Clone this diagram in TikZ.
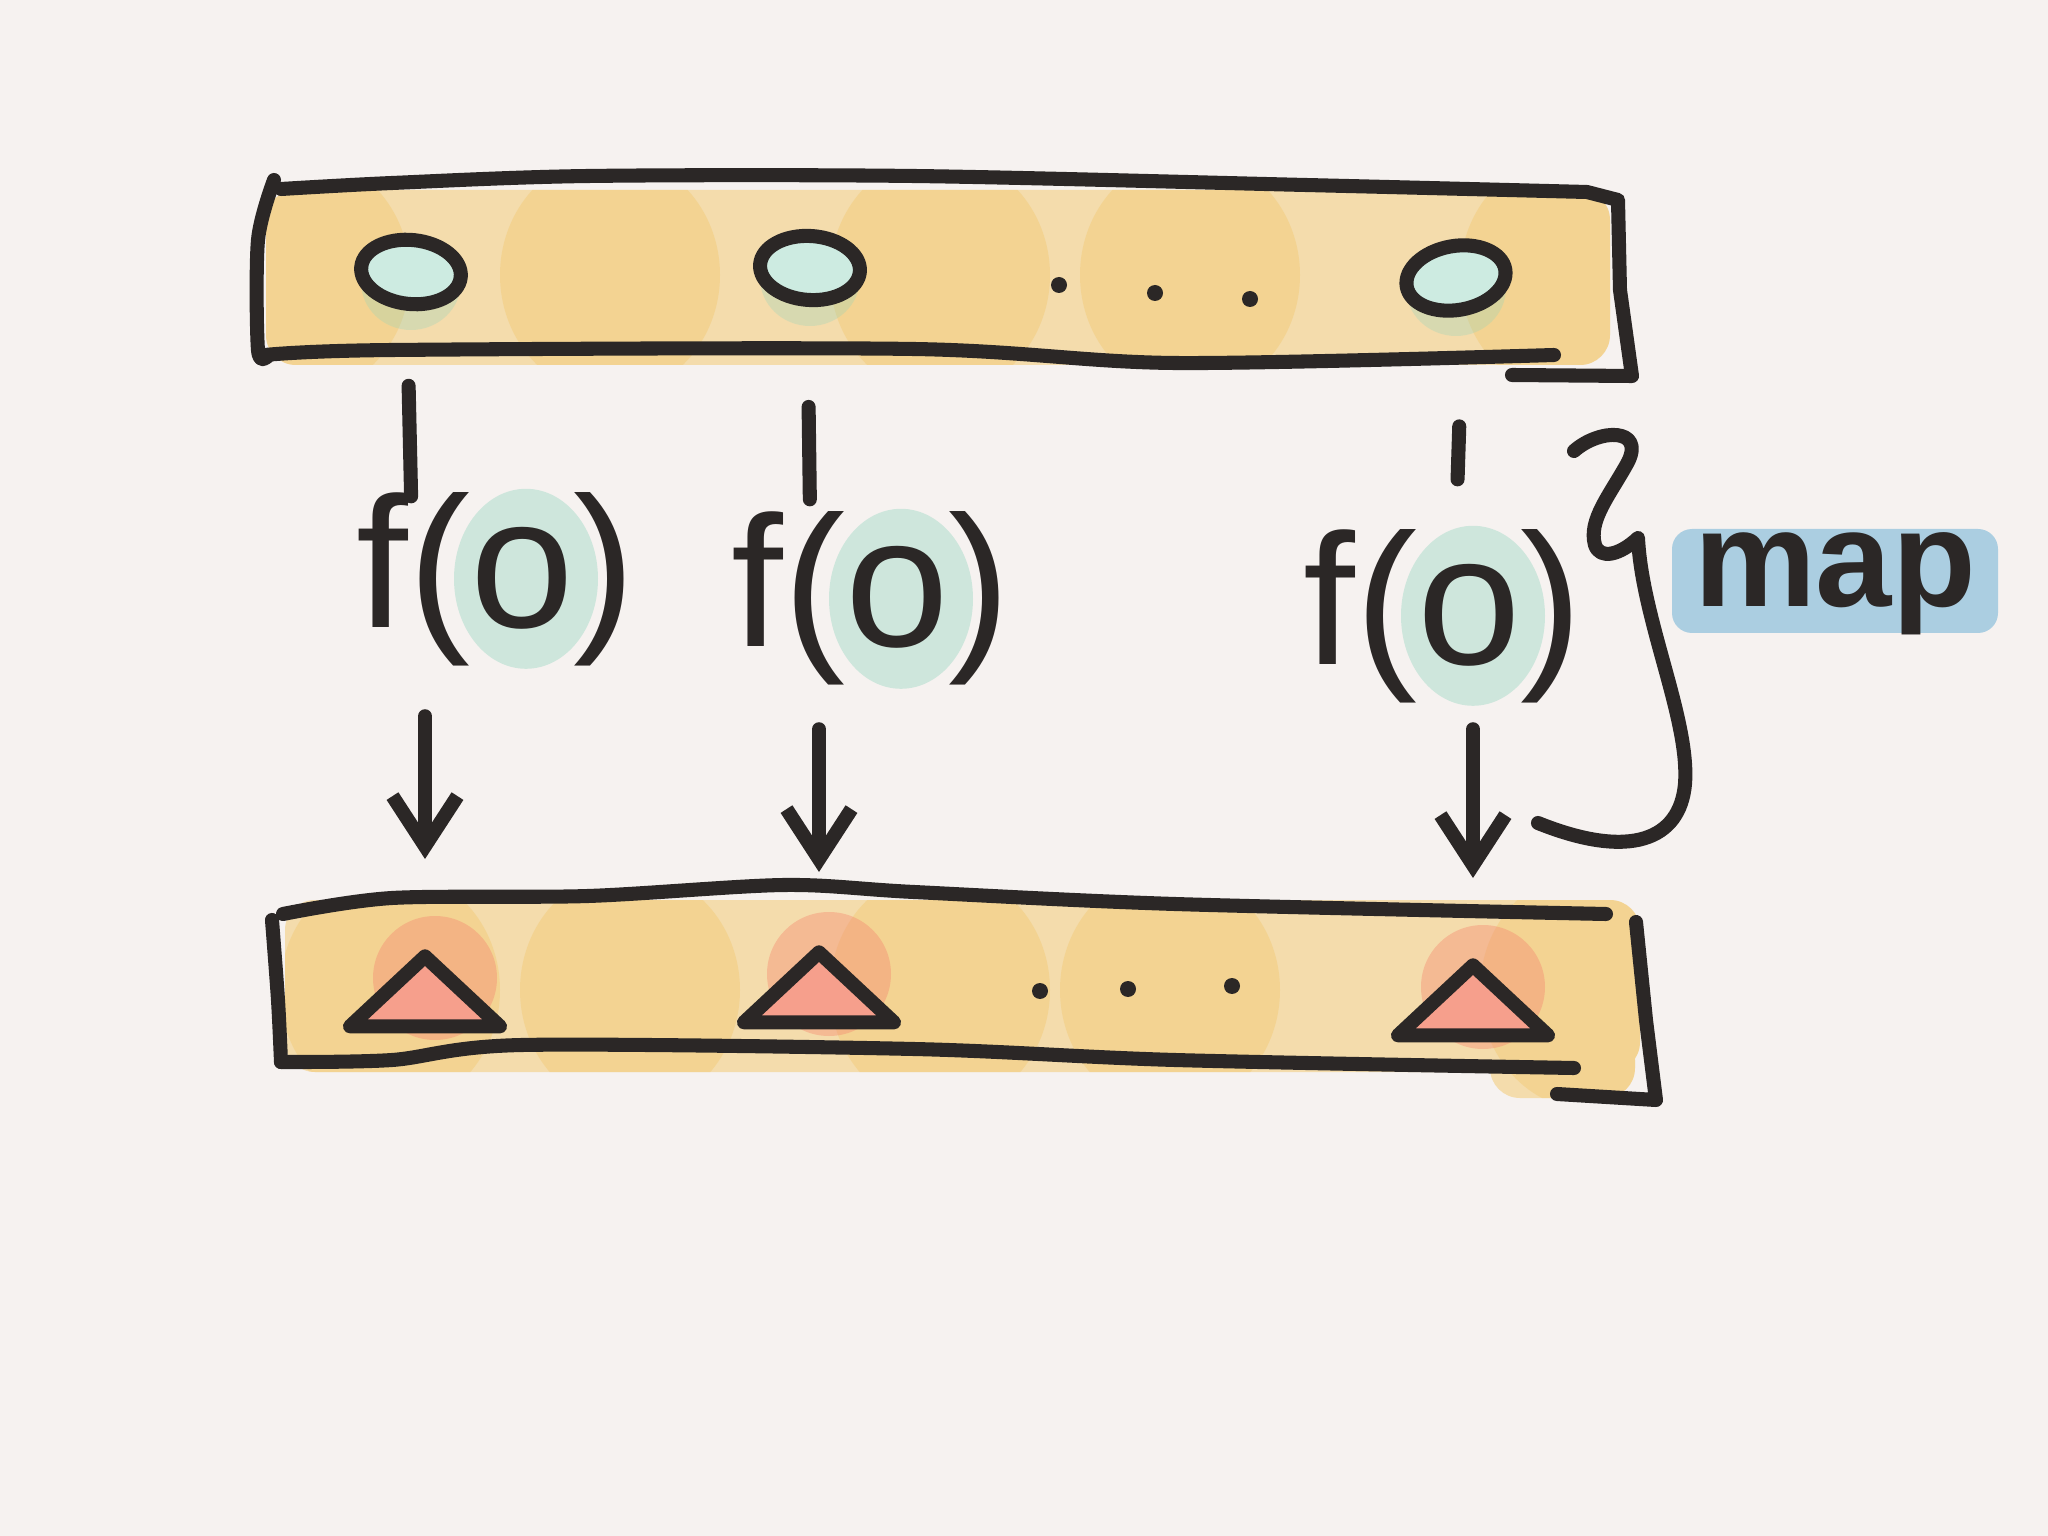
\documentclass[tikz,border=0pt]{standalone}
\usepackage{fontspec}
\setmainfont{Liberation Sans}
\usetikzlibrary{arrows.meta,shapes.geometric}
\definecolor{paper}{HTML}{F6F2F0}
\definecolor{ink}{HTML}{2B2726}
\definecolor{amber}{HTML}{F2BE50}
\definecolor{mint}{HTML}{8FD3BC}
\definecolor{coral}{HTML}{F4876F}
\definecolor{sky}{HTML}{6FB2D6}
\pgfdeclarelayer{bg}
\pgfsetlayers{bg,main}

\begin{document}
\begin{tikzpicture}[
  pen/.style={draw=ink, line width=4pt, line cap=round, line join=round},
  obj/.style={ellipse, pen, fill=mint!45, minimum width=10mm, minimum height=6.4mm, inner sep=0pt},
  res/.style={isosceles triangle, isosceles triangle stretches, shape border rotate=90,
    pen, fill=coral!80, minimum width=15mm, minimum height=7mm, inner sep=0pt},
  fn/.style={text=ink, font=\fontsize{53}{53}\selectfont, inner sep=0pt, anchor=base},
  speck/.style={circle, fill=ink, inner sep=0pt, minimum size=1.6mm},
  blob/.style={fill=#1, fill opacity=0.28},
  >={Straight Barb[length=5mm, width=6.5mm]}
]
  % inputs
  \node[obj, rotate=-6] (o1) at (4.11,-2.72) {};
  \node[obj, rotate=-4] (o2) at (8.10,-2.68) {};
  \node[obj, rotate=10] (o3) at (14.56,-2.78) {};
  \node[speck] (d1) at (10.59,-2.85) {};
  \node[speck] (d2) at (11.55,-2.93) {};
  \node[speck] (d3) at (12.50,-2.99) {};

  % f(o)
  \node[fn] (f1) at (4.96,-6.27) {f(o)};
  \node[fn] (f2) at (8.71,-6.47) {f(o)};
  \node[fn] (f3) at (14.43,-6.64) {f(o)};
  \node[fn, font=\fontsize{39}{39}\selectfont\bfseries] (map) at (18.35,-6.07) {map};

  % results
  \node[res, anchor=apex] (t1) at (4.25,-9.38) {};
  \node[res, anchor=apex] (t2) at (8.19,-9.34) {};
  \node[res, anchor=apex] (t3) at (14.73,-9.47) {};
  \node[speck] (e1) at (10.40,-9.91) {};
  \node[speck] (e2) at (11.28,-9.89) {};
  \node[speck] (e3) at (12.32,-9.86) {};

  \begin{pgfonlayer}{bg}
    \fill[paper] (0,0) rectangle (20.48,-15.36);
    \begin{scope}
      \clip[rounded corners=3mm] (2.66,-1.9) rectangle (16.1,-3.65);
      \fill[amber, fill opacity=0.42] (2.6,-1.8) rectangle (16.2,-3.7);
      \foreach \x in {3.0,6.1,9.4,11.9,15.7}
        \fill[blob=amber] (\x,-2.75) ellipse (1.1 and 1.2);
    \end{scope}
    \begin{scope}
      \clip[rounded corners=3mm] (2.85,-9.0) rectangle (16.4,-10.72)
        (14.9,-10.3) rectangle (16.35,-10.98);
      \fill[amber, fill opacity=0.42] (2.7,-8.9) rectangle (16.5,-11.0);
      \foreach \x in {3.9,6.3,9.4,11.7,15.9}
        \fill[blob=amber] (\x,-9.9) ellipse (1.1 and 1.2);
    \end{scope}
    \foreach \o in {o1,o2,o3}
      \fill[blob=mint] ([yshift=-1mm]\o) ellipse (0.5 and 0.48);
    \foreach \f in {f1,f2,f3}
      \fill[blob=mint, fill opacity=0.38] ([xshift=3mm]\f.center) ellipse (0.72 and 0.9);
    \foreach \t in {t1,t2,t3}
      \fill[blob=coral, fill opacity=0.4] ([xshift=1mm, yshift=-4mm]\t.apex) ellipse (0.62 and 0.62);
    \fill[sky, fill opacity=0.55, rounded corners=2mm] (16.72,-5.29) rectangle (19.98,-6.33);
  \end{pgfonlayer}

  % bands
  \draw[pen] plot[smooth] coordinates {(2.74,-1.80) (2.58,-2.40) (2.58,-3.50) (2.68,-3.56)};
  \draw[pen] plot[smooth] coordinates {(2.81,-1.89) (3.92,-1.83) (5.88,-1.76) (9.14,-1.76) (13.06,-1.85) (15.87,-1.92)}
    -- (16.18,-2.00) -- (16.20,-2.90) -- (16.32,-3.76) -- (15.12,-3.75);
  \draw[pen] plot[smooth] coordinates {(2.65,-3.55) (3.92,-3.50) (9.14,-3.49) (11.75,-3.63) (15.54,-3.55)};

  \draw[pen] plot[smooth] coordinates {(2.72,-9.20) (2.78,-10.0) (2.81,-10.62)};
  \draw[pen] plot[smooth] coordinates {(2.83,-9.14) (3.92,-8.98) (5.88,-8.96) (7.84,-8.85) (9.14,-8.92) (11.75,-9.04) (16.06,-9.14)};
  \draw[pen] (16.36,-9.22) -- (16.46,-10.2) -- (16.56,-11.00) -- (15.57,-10.94);
  \draw[pen] plot[smooth] coordinates {(2.81,-10.62) (3.92,-10.60) (5.22,-10.45) (9.14,-10.49) (11.75,-10.60) (15.74,-10.68)};

  % connectors
  \draw[pen, shorten <=7.5mm, shorten >=-0.5mm] (o1.south) -- (o1 |- f1.north);
  \draw[pen, shorten <=10mm, shorten >=1.2mm] (o2.south) -- (o2 |- f2.north);
  \draw[pen, shorten <=11mm, shorten >=4.9mm] (o3.south) -- (o3 |- f3.north);
  \draw[pen, ->, shorten <=5mm, shorten >=7.9mm] (t1.apex |- f1.south) -- (t1.apex);
  \draw[pen, ->, shorten <=4.3mm, shorten >=6.2mm] (t2.apex |- f2.south) -- (t2.apex);
  \draw[pen, ->, shorten <=2.6mm, shorten >=6.9mm] (t3.apex |- f3.south) -- (t3.apex);

  % brace
  \draw[pen] (15.74,-4.51) .. controls (16.0,-4.28) and (16.45,-4.28) .. (16.28,-4.62)
    .. controls (16.1,-4.95) and (15.88,-5.2) .. (15.95,-5.45)
    .. controls (16.0,-5.6) and (16.2,-5.55) .. (16.38,-5.38)
    .. controls (16.42,-6.2) and (16.9,-7.2) .. (16.85,-7.84)
    .. controls (16.8,-8.4) and (16.3,-8.6) .. (15.38,-8.23);
\end{tikzpicture}
\end{document}
